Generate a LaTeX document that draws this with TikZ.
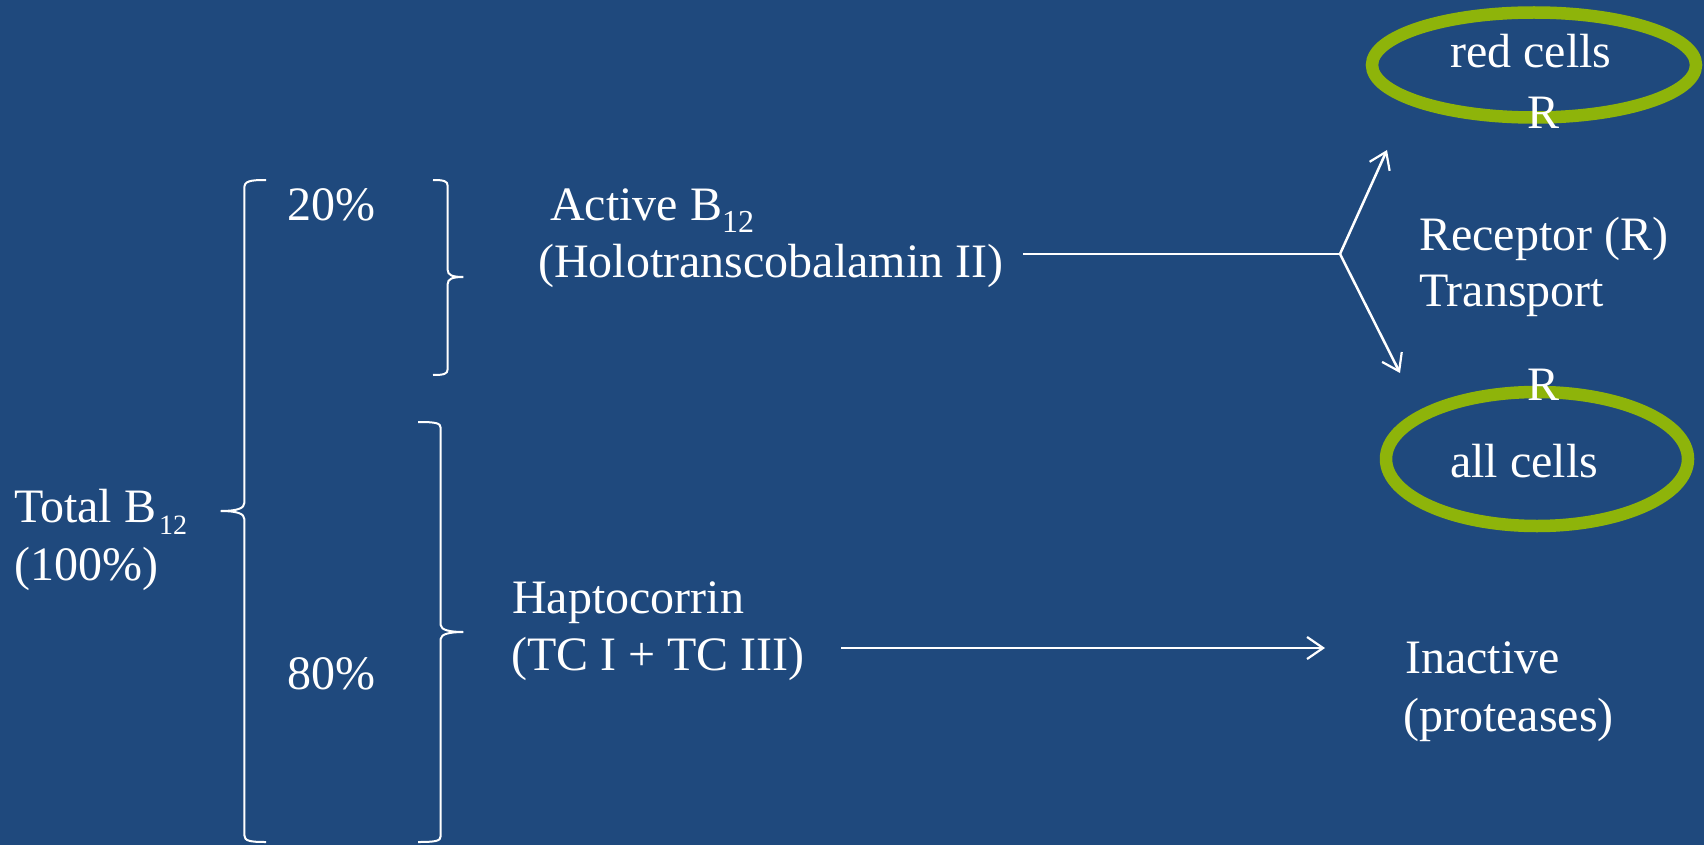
\documentclass[tikz,border=0pt]{standalone}
\usepackage{fontspec}
\setmainfont{Liberation Serif}
\usetikzlibrary{arrows.meta,shapes.geometric}
\definecolor{bg}{RGB}{31,73,125}
\definecolor{ring}{RGB}{142,180,10}
\begin{document}
\begin{tikzpicture}[x=1pt,y=-1pt,
  lbl/.style={text=white,font=\fontsize{48}{57.6}\selectfont,inner sep=0pt,anchor=base west},
  bracestyle/.style={draw=white,line width=2pt},
  conn/.style={draw=white,line width=2.5pt},
  arr/.style={conn,-{Straight Barb[length=16pt,width=22pt,line width=2.2pt]}},
  ringst/.style={draw=ring,line width=12.5pt,ellipse,inner sep=0pt}]
\useasboundingbox[fill=bg] (0,0) rectangle (1704,845);
\newcommand{\subn}[2]{\raisebox{-12pt}{\fontsize{#1}{#1}\selectfont #2}}
% braces
\draw[bracestyle] (266,180) .. controls (250,180) and (244.3,181) .. (244.3,188) -- (244.3,503)
  .. controls (244.3,508) and (238,511) .. (220.7,511)
  .. controls (238,511) and (244.3,514) .. (244.3,519) -- (244.3,835)
  .. controls (244.3,841) and (250,842) .. (266,842);
\draw[bracestyle] (433,180) .. controls (444,180) and (447.7,181) .. (447.7,186) -- (447.7,270)
  .. controls (447.7,275) and (452,277) .. (463.3,277)
  .. controls (452,277) and (447.7,279) .. (447.7,284) -- (447.7,369)
  .. controls (447.7,374) and (444,375) .. (433,375);
\draw[bracestyle] (418,422) .. controls (436,422) and (440.7,423) .. (440.7,428) -- (440.7,625)
  .. controls (440.7,630) and (450,632) .. (463.3,632)
  .. controls (450,632) and (440.7,634) .. (440.7,639) -- (440.7,836)
  .. controls (440.7,841) and (436,842) .. (418,842);
% ellipses
\node[ringst,minimum width=324pt,minimum height=105pt] (redring) at (1534,65) {};
\node[ringst,minimum width=302pt,minimum height=134pt] (allring) at (1537,459) {};
% texts
\node[lbl] (total) at (14,522) {Total B\kern3pt\subn{28}{12}};
\node[lbl] (hundred) at (14,580) {(100\%)};
\node[lbl] (twenty) at (287,220) {20\%};
\node[lbl] (eighty) at (287,689) {80\%};
\node[lbl] (active) at (550,220) {Active B\subn{32}{12}};
\node[lbl] (holo) at (538,277) {(Holotranscobalamin II)};
\node[lbl] (hapto) at (512,613) {Haptocorrin};
\node[lbl] (tc) at (511,670) {(TC I + TC III)};
\node[lbl] (inactive) at (1405,673) {Inactive};
\node[lbl] (prot) at (1403,731) {(proteases)};
\node[lbl] (receptor) at (1419,250) {Receptor (R)};
\node[lbl] (transport) at (1419,306) {Transport};
\node[lbl] (red) at (1450,68) {red cells};
\node[lbl] (rtop) at (1527,128.6) {R};
\node[lbl] (rbot) at (1527,400.7) {R};
\node[lbl] (all) at (1450,477) {all cells};
% connectors
\coordinate (hs) at (1023,254);
\coordinate (br) at (1340,254);
\coordinate (upt) at (1387,150);
\coordinate (dnt) at (1400,373);
\coordinate (hps) at (841,648);
\coordinate (hpt) at (1325,648);
\draw[conn] (hs) -- (br);
\draw[arr] (br) -- (upt);
\draw[arr] (br) -- (dnt);
\draw[arr] (hps) -- (hpt);
\end{tikzpicture}
\end{document}
